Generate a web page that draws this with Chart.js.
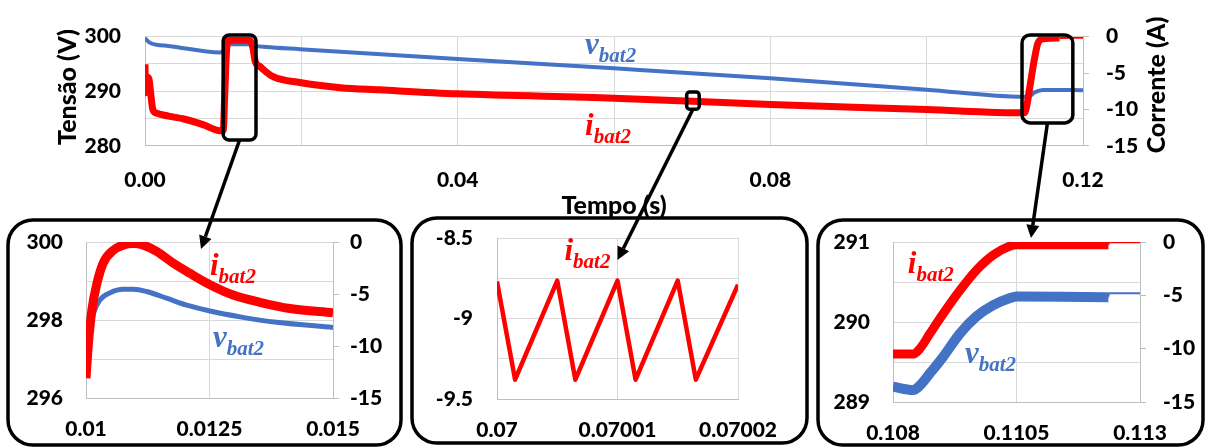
<!DOCTYPE html>
<html>
<head>
<meta charset="utf-8">
<script src="https://cdn.jsdelivr.net/npm/chart.js@4/dist/chart.umd.min.js"></script>
<style>
  html, body { margin: 0; padding: 0; background: #fff; }
  #wrap { position: relative; width: 1208px; height: 448px; overflow: hidden; }
  #wrap canvas { position: absolute; left: 0; top: 0; }
</style>
</head>
<body>
<div id="wrap">
  <canvas id="insetA" width="1208" height="448"></canvas>
  <canvas id="insetB" width="1208" height="448"></canvas>
  <canvas id="insetC" width="1208" height="448"></canvas>
  <canvas id="main" width="1208" height="448"></canvas>
</div>
<script>
// ---- full run, 0 .. 0.12 s ----
const mainTimeI = [0, 0.00005, 0.0002, 0.0005, 0.0007, 0.001, 0.0015, 0.003, 0.005, 0.0075, 0.0096, 0.0100, 0.0102, 0.0104, 0.0106, 0.0134, 0.0138, 0.0141, 0.0147, 0.0164, 0.0198, 0.025, 0.03, 0.04, 0.06, 0.08, 0.1, 0.1125, 0.1128, 0.1132, 0.1138, 0.1142, 0.1149, 0.117, 0.12];
const mainCurrent = [-3.8, -7.7, -5.5, -5.8, -7.5, -10.0, -10.5, -10.9, -11.3, -12.1, -12.9, -12.9, -8.0, -2.5, -0.5, -0.5, -1.5, -3.4, -4.1, -5.5, -6.3, -7.0, -7.3, -7.85, -8.44, -9.3, -10.0, -10.45, -9.5, -6.9, -3.0, -1.0, -0.3, -0.2, -0.15];
const mainTimeV = [0, 0.0006, 0.0015, 0.003, 0.0096, 0.0100, 0.0104, 0.0106, 0.0134, 0.0141, 0.0155, 0.0198, 0.04, 0.06, 0.08, 0.1, 0.1123, 0.1130, 0.1138, 0.1149, 0.12];
const mainVoltage = [299.7, 298.9, 298.5, 298.3, 297.1, 297.4, 298.3, 298.6, 298.6, 298.3, 298.1, 297.7, 295.9, 294.2, 292.4, 290.3, 289.0, 289.0, 289.8, 290.25, 290.2];

// ---- detail 0.010 .. 0.015 s ----
const detATimeI = [0.01, 0.01005, 0.01012, 0.01022, 0.01035, 0.01055, 0.01075, 0.01096, 0.01116, 0.01143, 0.01177, 0.0121, 0.01251, 0.01298, 0.01352, 0.01413, 0.015];
const detACurrent = [-13.1, -9.7, -6.5, -4.0, -2.0, -0.8, -0.3, -0.15, -0.3, -0.9, -2.05, -3.0, -4.1, -5.1, -5.8, -6.4, -6.8];
const detATimeV = [0.01, 0.01005, 0.01015, 0.01028, 0.01049, 0.01075, 0.01096, 0.01123, 0.01163, 0.01204, 0.01251, 0.01312, 0.01386, 0.015];
const detAVoltage = [297.23, 297.66, 298.17, 298.51, 298.70, 298.79, 298.79, 298.73, 298.56, 298.38, 298.23, 298.08, 297.94, 297.81];

// ---- detail 0.07 .. 0.07002 s (switching ripple) ----
const detBTime = [0.07, 0.0700015, 0.070005, 0.0700065, 0.07001, 0.0700115, 0.070015, 0.0700165, 0.07002];
const detBCurrent = [-8.77, -9.38, -8.765, -9.38, -8.765, -9.38, -8.765, -9.38, -8.79];

// ---- detail 0.108 .. 0.113 s ----
const detCTime = [0.108, 0.10841, 0.10855, 0.10875, 0.10902, 0.10936, 0.10969, 0.11003, 0.11037, 0.1105, 0.11236, 0.11237, 0.113];
const detCCurrent = [-10.5, -10.5, -9.97, -8.56, -6.69, -4.5, -2.63, -1.22, -0.375, -0.25, -0.25, -0.03, -0.03];
const detCVoltage = [289.19, 289.15, 289.21, 289.36, 289.57, 289.86, 290.07, 290.21, 290.30, 290.32, 290.31, 290.36, 290.36];

// ---- tick values and labels ----
const mainTimeTicks = [0, 0.02, 0.04, 0.06, 0.08, 0.10, 0.12];
const mainTimeLabels = ['0.00', '', '0.04', '', '0.08', '', '0.12'];
const mainVoltTicks = [280, 285, 290, 295, 300];
const mainVoltLabels = ['280', '', '290', '', '300'];
const currTicks = [-15, -10, -5, 0];
const currLabels = ['-15', '-10', '-5', '0'];

const detATimeTicks = [0.01, 0.0125, 0.015];
const detATimeLabels = ['0.01', '0.0125', '0.015'];
const detAVoltTicks = [296, 297, 298, 299, 300];
const detAVoltLabels = ['296', '', '298', '', '300'];

const detBTimeTicks = [0.07, 0.07001, 0.07002];
const detBTimeLabels = ['0.07', '0.07001', '0.07002'];
const detBCurrTicks = [-9.5, -9.25, -9, -8.75, -8.5];
const detBCurrLabels = ['-9.5', '', '-9', '', '-8.5'];

const detCTimeTicks = [0.108, 0.1105, 0.113];
const detCTimeLabels = ['0.108', '0.1105', '0.113'];
const detCVoltTicks = [289, 289.5, 290, 290.5, 291];
const detCVoltLabels = ['289', '', '290', '', '291'];

const GRID = '#d9d9d9';
const AXIS = '#bfbfbf';
const RED = '#ff0000';
const BLUE = '#4472c4';
const TICK_FONT = { family: 'Lato', size: 21, weight: 900 };

function pts(ts, vs) {
  return ts.map((t, k) => ({ x: t, y: vs[k] }));
}

function xAxis(min, max, vals, labels, height, pad) {
  return {
    type: 'linear', position: 'bottom', min: min, max: max,
    afterBuildTicks: s => { s.ticks = vals.map(v => ({ value: v })); },
    afterFit: s => { s.height = height; },
    grid: { color: GRID, drawTicks: false },
    border: { color: AXIS },
    ticks: { font: TICK_FONT, color: '#000', padding: pad, autoSkip: false, maxRotation: 0,
             callback: (v, i) => labels[i] }
  };
}

function yAxis(position, min, max, vals, labels, width, pad, onArea) {
  return {
    type: 'linear', position: position, min: min, max: max,
    afterBuildTicks: s => { s.ticks = vals.map(v => ({ value: v })); },
    afterFit: s => { s.width = width; },
    grid: { color: GRID, drawOnChartArea: onArea, drawTicks: !onArea, tickLength: 6, tickColor: AXIS },
    border: { color: AXIS },
    ticks: { font: TICK_FONT, color: '#000', padding: pad, autoSkip: false,
             callback: (v, i) => labels[i] }
  };
}

function line(data, color, width, yAxisID, extra) {
  return Object.assign({
    data: data, yAxisID: yAxisID, borderColor: color, borderWidth: width,
    pointRadius: 0, fill: false, borderJoinStyle: 'round', borderCapStyle: 'butt'
  }, extra || {});
}

// i_bat2 / v_bat2 names written next to the traces
function tagPlugin(tags) {
  return {
    id: 'seriesTags',
    afterDatasetsDraw(chart) {
      const ctx = chart.ctx;
      ctx.save();
      ctx.textAlign = 'left';
      ctx.textBaseline = 'alphabetic';
      tags.forEach(tag => {
        const x = chart.scales.x.getPixelForValue(tag.t);
        const y = chart.scales[tag.axis].getPixelForValue(tag.v);
        ctx.fillStyle = tag.color;
        ctx.font = 'italic bold 31px "Liberation Serif"';
        ctx.fillText(tag.letter, x, y);
        const w = ctx.measureText(tag.letter).width;
        ctx.font = 'italic bold 21px "Liberation Serif"';
        ctx.fillText('bat2', x + w, y + 8);
      });
      ctx.restore();
    }
  };
}

// rounded outline around each detail chart
function framePlugin(box) {
  return {
    id: 'frame',
    beforeDraw(chart) {
      const ctx = chart.ctx;
      ctx.save();
      ctx.beginPath();
      ctx.roundRect(box.x, box.y, box.w, box.h, 25);
      ctx.fillStyle = '#fff';
      ctx.fill();
      ctx.lineWidth = 3.5;
      ctx.strokeStyle = '#000';
      ctx.stroke();
      ctx.restore();
    }
  };
}

function baseOptions(padding, scales) {
  return {
    responsive: false, animation: false, devicePixelRatio: 1, events: [],
    layout: { padding: padding },
    plugins: { legend: { display: false }, tooltip: { enabled: false } },
    scales: scales
  };
}

const smooth = { cubicInterpolationMode: 'monotone' };

// detail 0.010 .. 0.015
const chartA = new Chart(document.getElementById('insetA'), {
  type: 'line',
  data: { datasets: [
    line(pts(detATimeI, detACurrent), RED, 9, 'yI', smooth),
    line(pts(detATimeV, detAVoltage), BLUE, 5, 'yV', smooth)
  ] },
  options: baseOptions({ left: 0, top: 242, right: 808, bottom: 10 }, {
    x: xAxis(0.01, 0.015, detATimeTicks, detATimeLabels, 40, 19),
    yV: yAxis('left', 296, 300, detAVoltTicks, detAVoltLabels, 86, 23, true),
    yI: yAxis('right', -15, 0, currTicks, currLabels, 67, 11, false)
  }),
  plugins: [framePlugin({ x: 8, y: 220, w: 393, h: 225 }), tagPlugin([
    { letter: 'i', t: 0.01251, v: -3.17, axis: 'yI', color: RED },
    { letter: 'v', t: 0.01257, v: 297.31, axis: 'yV', color: BLUE }
  ])]
});

// detail 0.07 .. 0.07002
const chartB = new Chart(document.getElementById('insetB'), {
  type: 'line',
  data: { datasets: [
    line(pts(detBTime, detBCurrent), RED, 4.5, 'yI')
  ] },
  options: baseOptions({ left: 405, top: 238, right: 470, bottom: 9 }, {
    x: xAxis(0.07, 0.07002, detBTimeTicks, detBTimeLabels, 40, 19),
    yI: yAxis('left', -9.5, -8.5, detBCurrTicks, detBCurrLabels, 92, 24, true)
  }),
  plugins: [framePlugin({ x: 412, y: 218, w: 395, h: 225 }), tagPlugin([
    { letter: 'i', t: 0.0700056, v: -8.637, axis: 'yI', color: RED }
  ])]
});

// detail 0.108 .. 0.113, ripple band thins out at the end
const thinAfter = t => ctx => (ctx.p0.parsed.x >= t ? 2 : undefined);
const chartC = new Chart(document.getElementById('insetC'), {
  type: 'line',
  data: { datasets: [
    line(pts(detCTime, detCCurrent), RED, 9, 'yI', { cubicInterpolationMode: 'monotone', segment: { borderWidth: thinAfter(0.11236) } }),
    line(pts(detCTime, detCVoltage), BLUE, 10, 'yV', { cubicInterpolationMode: 'monotone', segment: { borderWidth: thinAfter(0.11236) } })
  ] },
  options: baseOptions({ left: 810, top: 242, right: 5, bottom: 6 }, {
    x: xAxis(0.108, 0.113, detCTimeTicks, detCTimeLabels, 40, 19),
    yV: yAxis('left', 289, 291, detCVoltTicks, detCVoltLabels, 83, 23, true),
    yI: yAxis('right', -15, 0, currTicks, currLabels, 63, 17, false)
  }),
  plugins: [framePlugin({ x: 818, y: 220, w: 385, h: 225 }), tagPlugin([
    { letter: 'i', t: 0.1083, v: -2.91, axis: 'yI', color: RED },
    { letter: 'v', t: 0.109457, v: 289.49, axis: 'yV', color: BLUE }
  ])]
});

// zoom windows marked on the full run, and where each one points
const zoomBoxes = [
  { t0: 0.0100, t1: 0.0142, y0: 300.3, y1: 281.1, axis: 'yV', r: 6, target: chartA, tt: 0.012328, tv: 299.82, tAxis: 'yV' },
  { t0: 0.0693, t1: 0.0709, y0: -7.6, y1: -9.96, axis: 'yI', r: 3, target: chartB, tt: 0.07001, tv: -8.637, tAxis: 'yI' },
  { t0: 0.1122, t1: 0.1187, y0: 0.23, y1: -11.84, axis: 'yI', r: 8, target: chartC, tt: 0.110793, tv: 0.375, tAxis: 'yI' }
];

function drawArrow(ctx, x0, y0, x1, y1) {
  const a = Math.atan2(y1 - y0, x1 - x0);
  const head = 13, half = 6.5;
  const bx = x1 - head * Math.cos(a), by = y1 - head * Math.sin(a);
  ctx.beginPath();
  ctx.moveTo(x0, y0);
  ctx.lineTo(bx, by);
  ctx.stroke();
  ctx.beginPath();
  ctx.moveTo(x1, y1);
  ctx.lineTo(bx + half * Math.sin(a), by - half * Math.cos(a));
  ctx.lineTo(bx - half * Math.sin(a), by + half * Math.cos(a));
  ctx.closePath();
  ctx.fill();
}

const mainDecor = {
  id: 'mainDecor',
  afterDraw(chart) {
    const ctx = chart.ctx;
    const area = chart.chartArea;
    const x = chart.scales.x;
    ctx.save();
    ctx.fillStyle = '#000';
    ctx.font = '900 25px Lato';
    ctx.textAlign = 'center';
    ctx.textBaseline = 'middle';
    ctx.fillText('Tempo (s)', (area.left + area.right) / 2, area.bottom + 60);
    [['Tensão (V)', area.left - 77, 87], ['Corrente (A)', area.right + 74, 85]].forEach(([txt, px, py]) => {
      ctx.save();
      ctx.translate(px, py);
      ctx.rotate(-Math.PI / 2);
      ctx.fillText(txt, 0, 0);
      ctx.restore();
    });

    ctx.strokeStyle = '#000';
    ctx.lineWidth = 3.5;
    zoomBoxes.forEach(b => {
      const ys = chart.scales[b.axis];
      const l = x.getPixelForValue(b.t0), r = x.getPixelForValue(b.t1);
      const t = ys.getPixelForValue(b.y0), btm = ys.getPixelForValue(b.y1);
      ctx.beginPath();
      ctx.roundRect(l, t, r - l, btm - t, b.r);
      ctx.stroke();
      const tx = b.target.scales.x.getPixelForValue(b.tt);
      const ty = b.target.scales[b.tAxis].getPixelForValue(b.tv);
      drawArrow(ctx, (l + r) / 2, btm, tx, ty);
    });
    ctx.restore();
  }
};

// full run 0 .. 0.12 s
new Chart(document.getElementById('main'), {
  type: 'line',
  data: { datasets: [
    line(pts(mainTimeI, mainCurrent), RED, 7, 'yI', { cubicInterpolationMode: 'monotone', segment: { borderWidth: thinAfter(0.117) } }),
    line(pts(mainTimeV, mainVoltage), BLUE, 4, 'yV', smooth)
  ] },
  options: baseOptions({ left: 0, top: 18, right: 0, bottom: 233 }, {
    x: xAxis(0, 0.12, mainTimeTicks, mainTimeLabels, 69, 22),
    yV: yAxis('left', 280, 300, mainVoltTicks, mainVoltLabels, 145, 24, true),
    yI: yAxis('right', -15, 0, currTicks, currLabels, 125, 17, false)
  }),
  plugins: [mainDecor, tagPlugin([
    { letter: 'v', t: 0.0563, v: 296.9, axis: 'yV', color: BLUE },
    { letter: 'i', t: 0.0563, v: -13.48, axis: 'yI', color: RED }
  ])]
});
</script>
</body>
</html>
